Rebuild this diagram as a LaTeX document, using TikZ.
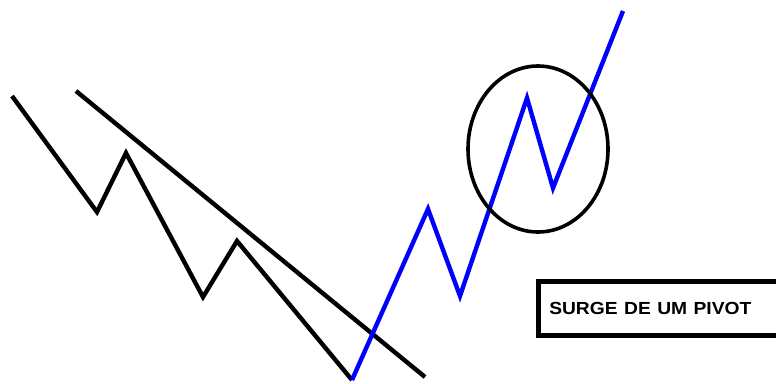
\documentclass[tikz,border=0pt]{standalone}
\usepackage{fontspec}
\setmainfont{Liberation Sans}
\usetikzlibrary{positioning}
\definecolor{pvblue}{RGB}{0,0,255}

\begin{document}
\begin{tikzpicture}[x=1pt,y=-1pt,
      ln/.style={line width=4.4pt,line join=miter},
      lbl/.style={draw,line width=4.5pt,anchor=north west,minimum height=54pt,
        text width=250pt,inner xsep=11pt,align=left,font=\bfseries\fontsize{17.5}{19}\selectfont}]
      \clip (0,0) rectangle (776,383);
      \fill[white] (0,0) rectangle (776,383);
      % zigzag de baixa
      \coordinate (p0) at (12,96);
      \coordinate (p1) at (97,212);
      \coordinate (p2) at (126,153);
      \coordinate (p3) at (203,297);
      \coordinate (p4) at (237,241);
      \coordinate (p5) at (352,380);
      % pernas de alta
      \coordinate (q1) at (428,209);
      \coordinate (q2) at (460,296);
      \coordinate (q3) at (527,98);
      \coordinate (q4) at (553,188);
      \coordinate (q5) at (623,11);
      % linha de tendencia
      \coordinate (t0) at (76,91);
      \coordinate (t1) at (425,377);
      \draw[ln] (p0)--(p1)--(p2)--(p3)--(p4)--(p5);
      \draw[ln] (t0)--(t1);
      \draw[ln,pvblue] (p5)--(q1)--(q2)--(q3)--(q4)--(q5);
      \draw[line width=3.6pt] (538,149) ellipse [x radius=70,y radius=83];
      \node[lbl] (pivot) at (536,279) {\scalebox{1.1}[1]{SURGE DE UM PIVOT}};
    \end{tikzpicture}
\end{document}
